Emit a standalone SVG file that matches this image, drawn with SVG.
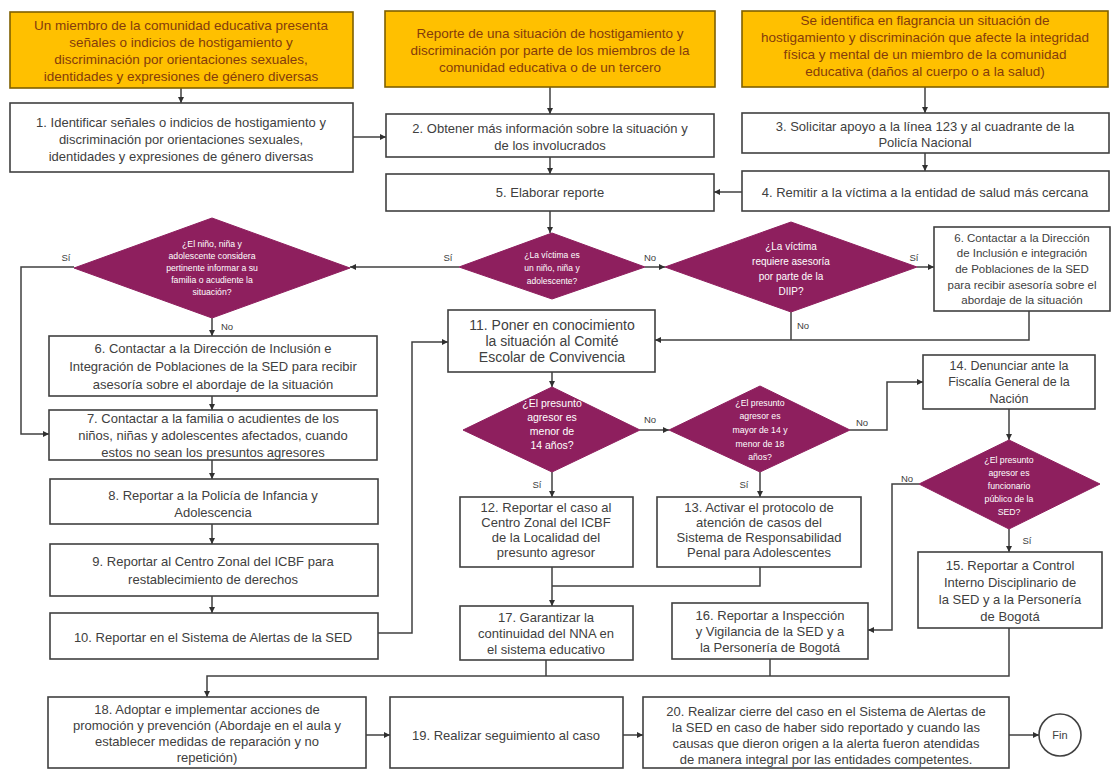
<svg xmlns="http://www.w3.org/2000/svg" width="1118" height="773" viewBox="0 0 1118 773">
<defs>
<marker id="ah" viewBox="0 0 8 8" refX="8" refY="4" markerWidth="6" markerHeight="6" markerUnits="userSpaceOnUse" orient="auto">
<path d="M0,0 L8,4 L0,8 z" fill="#303030"/>
</marker>
<style>
.box{fill:#fff;stroke:#404040;stroke-width:1.6}
.ybox{fill:#FFC000;stroke:#7F6000;stroke-width:1.6}
.dia{fill:#8E1F5E;stroke:#8E1F5E;stroke-width:1}
.t{font-family:"Liberation Sans",Arial,sans-serif;font-size:13px;fill:#404040;text-anchor:middle;dominant-baseline:central}
.yt{fill:#843C0C;font-size:13.5px}
.dt{fill:#fff;font-size:8.7px}
.s6{font-size:11.5px}
.lb{font-family:"Liberation Sans",Arial,sans-serif;font-size:9.5px;fill:#404040;text-anchor:middle;dominant-baseline:central}
.c{stroke:#404040;stroke-width:1.5;fill:none}
.ca{stroke:#404040;stroke-width:1.5;fill:none;marker-end:url(#ah)}
</style>
</defs>
<rect width="1118" height="773" fill="#fff"/>

<g id="connectors">
<path class="ca" d="M181,88 V103"/>
<path class="ca" d="M550,87 V114"/>
<path class="ca" d="M925,87 V113"/>
<path class="ca" d="M925,153 V171"/>
<path class="ca" d="M550,157 V174"/>
<path class="ca" d="M550,211 V233"/>
<path class="ca" d="M353,137 H386"/>
<path class="ca" d="M742,192 H714"/>
<path class="ca" d="M459,267 H350"/>
<path class="ca" d="M645,267 H665"/>
<path class="ca" d="M917,267 H934"/>
<path class="ca" d="M74,267 H21 V434 H49"/>
<path class="ca" d="M212,318 V336"/>
<path class="ca" d="M212,396 V410"/>
<path class="ca" d="M212,460 V479"/>
<path class="ca" d="M212,524 V544"/>
<path class="ca" d="M212,596 V613"/>
<path class="ca" d="M378,633 H412 V342 H448"/>
<path class="c" d="M791,312 V340"/>
<path class="ca" d="M1029,311 V340 H655"/>
<path class="ca" d="M552,372 V387"/>
<path class="ca" d="M640,430 H669"/>
<path class="ca" d="M850,430 H887 V382 H923"/>
<path class="ca" d="M1009,409 V440"/>
<path class="ca" d="M919,484 H892 V630 H868"/>
<path class="ca" d="M1009,529 V552"/>
<path class="ca" d="M552,472 V497"/>
<path class="ca" d="M760,472 V497"/>
<path class="ca" d="M552,567 V606"/>
<path class="c" d="M760,567 V586 H552"/>
<path class="c" d="M546,660 V676"/>
<path class="c" d="M770,659 V676"/>
<path class="ca" d="M1009,628 V676 H207 V697"/>
<path class="ca" d="M366,735 H390"/>
<path class="ca" d="M623,735 H643"/>
<path class="ca" d="M1009,735 H1039"/>
<text class="lb" x="448" y="257">Sí</text>
<text class="lb" x="650" y="257">No</text>
<text class="lb" x="66" y="257">Sí</text>
<text class="lb" x="227" y="326">No</text>
<text class="lb" x="914" y="257">Sí</text>
<text class="lb" x="803" y="325">No</text>
<text class="lb" x="650" y="419">No</text>
<text class="lb" x="537" y="484">Sí</text>
<text class="lb" x="862" y="422">No</text>
<text class="lb" x="744" y="484">Sí</text>
<text class="lb" x="907" y="478">No</text>
<text class="lb" x="1027" y="540">Sí</text>
</g>

<g id="y1"><rect class="ybox" x="10" y="12" width="343" height="76"/>
<text class="t yt" x="181" y="25">Un miembro de la comunidad educativa presenta</text>
<text class="t yt" x="181" y="42">señales o indicios de hostigamiento y</text>
<text class="t yt" x="181" y="59">discriminación por orientaciones sexuales,</text>
<text class="t yt" x="181" y="76">identidades y expresiones de género diversas</text></g>

<g id="y2"><rect class="ybox" x="385" y="11" width="330" height="76"/>
<text class="t yt" x="550" y="33">Reporte de una situación de hostigamiento y</text>
<text class="t yt" x="550" y="50">discriminación por parte de los miembros de la</text>
<text class="t yt" x="550" y="67">comunidad educativa o de un tercero</text></g>

<g id="y3"><rect class="ybox" x="742" y="11" width="366" height="76"/>
<text class="t yt" x="925" y="20">Se identifica en flagrancia un situación de</text>
<text class="t yt" x="925" y="37">hostigamiento y discriminación que afecte la integridad</text>
<text class="t yt" x="925" y="54">física y mental de un miembro de la comunidad</text>
<text class="t yt" x="925" y="71">educativa (daños al cuerpo o a la salud)</text></g>

<g id="n1"><rect class="box" x="10" y="103" width="343" height="69"/>
<text class="t" x="181" y="122">1. Identificar señales o indicios de hostigamiento y</text>
<text class="t" x="181" y="139">discriminación por orientaciones sexuales,</text>
<text class="t" x="181" y="156">identidades y expresiones de género diversas</text></g>

<g id="n2"><rect class="box" x="386" y="114" width="328" height="43"/>
<text class="t" x="550" y="128">2. Obtener más información sobre la situación y</text>
<text class="t" x="550" y="145">de los involucrados</text></g>

<g id="n3"><rect class="box" x="742" y="113" width="367" height="40"/>
<text class="t" x="925" y="126">3. Solicitar apoyo a la línea 123 y al cuadrante de la</text>
<text class="t" x="925" y="142">Policía Nacional</text></g>

<g id="n4"><rect class="box" x="742" y="171" width="367" height="40"/>
<text class="t" x="925" y="192">4. Remitir a la víctima a la entidad de salud más cercana</text></g>

<g id="n5"><rect class="box" x="386" y="174" width="328" height="37"/>
<text class="t" x="550" y="192">5. Elaborar reporte</text></g>

<g id="d0"><polygon class="dia" points="212,218 350,268 212,318 74,268"/>
<text class="t dt" x="212" y="244">¿El niño, niña y</text>
<text class="t dt" x="212" y="256">adolescente considera</text>
<text class="t dt" x="212" y="268">pertinente informar a su</text>
<text class="t dt" x="212" y="280">familia o acudiente la</text>
<text class="t dt" x="212" y="292">situación?</text></g>

<g id="d1"><polygon class="dia" points="552,233 645,267 552,299 459,267"/>
<text class="t dt" x="552" y="255" style="font-size:8.5px">¿La víctima es</text>
<text class="t dt" x="552" y="268" style="font-size:8.5px">un niño, niña y</text>
<text class="t dt" x="552" y="281" style="font-size:8.5px">adolescente?</text></g>

<g id="d2"><polygon class="dia" points="791,222 917,267 791,312 665,267"/>
<text class="t dt" x="791" y="246" style="font-size:10px">¿La víctima</text>
<text class="t dt" x="791" y="261" style="font-size:10px">requiere asesoría</text>
<text class="t dt" x="791" y="276" style="font-size:10px">por parte de la</text>
<text class="t dt" x="791" y="291" style="font-size:10px">DIIP?</text></g>

<g id="n6b"><rect class="box" x="934" y="227" width="176" height="84"/>
<text class="t s6" x="1022" y="238">6. Contactar a la Dirección</text>
<text class="t s6" x="1022" y="253">de Inclusión e integración</text>
<text class="t s6" x="1022" y="269">de Poblaciones de la SED</text>
<text class="t s6" x="1022" y="285">para recibir asesoría sobre el</text>
<text class="t s6" x="1022" y="300">abordaje de la situación</text></g>

<g id="n6a"><rect class="box" x="49" y="336" width="328" height="60"/>
<text class="t" x="213" y="348">6. Contactar a la Dirección de Inclusión e</text>
<text class="t" x="213" y="366">Integración de Poblaciones de la SED para recibir</text>
<text class="t" x="213" y="384">asesoría sobre el abordaje de la situación</text></g>

<g id="n7"><rect class="box" x="49" y="410" width="328" height="50"/>
<text class="t" x="213" y="418">7. Contactar a la familia o acudientes de los</text>
<text class="t" x="213" y="435">niños, niñas y adolescentes afectados, cuando</text>
<text class="t" x="213" y="452">estos no sean los presuntos agresores</text></g>

<g id="n8"><rect class="box" x="50" y="479" width="328" height="45"/>
<text class="t" x="213" y="495">8. Reportar a la Policía de Infancia y</text>
<text class="t" x="213" y="512">Adolescencia</text></g>

<g id="n9"><rect class="box" x="50" y="544" width="328" height="52"/>
<text class="t" x="213" y="561">9. Reportar al Centro Zonal del ICBF para</text>
<text class="t" x="213" y="579">restablecimiento de derechos</text></g>

<g id="n10"><rect class="box" x="50" y="613" width="328" height="46"/>
<text class="t" x="213" y="637">10. Reportar en el Sistema de Alertas de la SED</text></g>

<g id="n11"><rect class="box" x="448" y="310" width="207" height="62"/>
<text class="t" x="552" y="325" style="font-size:14px">11. Poner en conocimiento</text>
<text class="t" x="552" y="341" style="font-size:14px">la situación al Comité</text>
<text class="t" x="552" y="357" style="font-size:14px">Escolar de Convivencia</text></g>

<g id="d3"><polygon class="dia" points="552,387 640,430 552,472 463,430"/>
<text class="t dt" x="552" y="403" style="font-size:10.5px">¿El presunto</text>
<text class="t dt" x="552" y="417" style="font-size:10.5px">agresor es</text>
<text class="t dt" x="552" y="431" style="font-size:10.5px">menor de</text>
<text class="t dt" x="552" y="445" style="font-size:10.5px">14 años?</text></g>

<g id="d4"><polygon class="dia" points="760,386 850,430 760,472 669,430"/>
<text class="t dt" x="760" y="403">¿El presunto</text>
<text class="t dt" x="760" y="416">agresor es</text>
<text class="t dt" x="760" y="430">mayor de 14 y</text>
<text class="t dt" x="760" y="444">menor de 18</text>
<text class="t dt" x="760" y="457">años?</text></g>

<g id="n12"><rect class="box" x="460" y="497" width="173" height="70"/>
<text class="t" x="546" y="507">12. Reportar el caso al</text>
<text class="t" x="546" y="522">Centro Zonal del ICBF</text>
<text class="t" x="546" y="537">de la Localidad del</text>
<text class="t" x="546" y="552">presunto agresor</text></g>

<g id="n13"><rect class="box" x="657" y="497" width="204" height="70"/>
<text class="t" x="759" y="507">13. Activar el protocolo de</text>
<text class="t" x="759" y="522">atención de casos del</text>
<text class="t" x="759" y="537">Sistema de Responsabilidad</text>
<text class="t" x="759" y="552">Penal para Adolescentes</text></g>

<g id="n14"><rect class="box" x="923" y="355" width="172" height="54"/>
<text class="t" x="1009" y="366" style="font-size:12.5px">14. Denunciar ante la</text>
<text class="t" x="1009" y="382" style="font-size:12.5px">Fiscalía General de la</text>
<text class="t" x="1009" y="399" style="font-size:12.5px">Nación</text></g>

<g id="d5"><polygon class="dia" points="1009,440 1100,484 1009,529 919,484"/>
<text class="t dt" x="1009" y="460">¿El presunto</text>
<text class="t dt" x="1009" y="473">agresor es</text>
<text class="t dt" x="1009" y="486">funcionario</text>
<text class="t dt" x="1009" y="499">público de la</text>
<text class="t dt" x="1009" y="512">SED?</text></g>

<g id="n15"><rect class="box" x="918" y="552" width="184" height="76"/>
<text class="t" x="1010" y="565">15. Reportar a Control</text>
<text class="t" x="1010" y="582">Interno Disciplinario de</text>
<text class="t" x="1010" y="599">la SED y a la Personería</text>
<text class="t" x="1010" y="616">de Bogotá</text></g>

<g id="n16"><rect class="box" x="672" y="603" width="196" height="56"/>
<text class="t" x="770" y="615">16. Reportar a Inspección</text>
<text class="t" x="770" y="631">y Vigilancia de la SED y a</text>
<text class="t" x="770" y="647">la Personería de Bogotá</text></g>

<g id="n17"><rect class="box" x="460" y="606" width="173" height="54"/>
<text class="t" x="546" y="617">17. Garantizar la</text>
<text class="t" x="546" y="633">continuidad del NNA en</text>
<text class="t" x="546" y="649">el sistema educativo</text></g>

<g id="n18"><rect class="box" x="48" y="697" width="318" height="71"/>
<text class="t" x="207" y="709">18. Adoptar e implementar acciones de</text>
<text class="t" x="207" y="725">promoción y prevención (Abordaje en el aula y</text>
<text class="t" x="207" y="741">establecer medidas de reparación y no</text>
<text class="t" x="207" y="757">repetición)</text></g>

<g id="n19"><rect class="box" x="390" y="697" width="233" height="71"/>
<text class="t" x="506" y="735">19. Realizar seguimiento al caso</text></g>

<g id="n20"><rect class="box" x="643" y="697" width="366" height="71"/>
<text class="t" x="826" y="711">20. Realizar cierre del caso en el Sistema de Alertas de</text>
<text class="t" x="826" y="727">la SED en caso de haber sido reportado y cuando las</text>
<text class="t" x="826" y="743">causas que dieron origen a la alerta fueron atendidas</text>
<text class="t" x="826" y="759">de manera integral por las entidades competentes.</text></g>

<g id="fin"><circle cx="1060" cy="735" r="21" fill="#fff" stroke="#404040" stroke-width="1.6"/>
<text class="t" x="1060" y="735" style="font-size:11px">Fin</text></g>
</svg>
